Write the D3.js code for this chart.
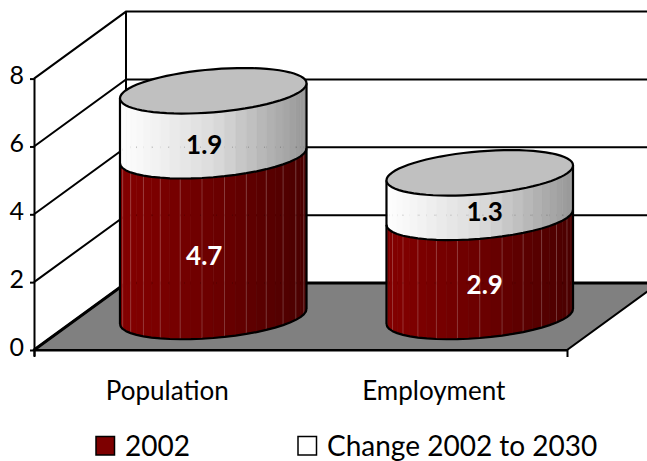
<!DOCTYPE html>
<html><head><meta charset="utf-8">
<script src="https://cdnjs.cloudflare.com/ajax/libs/d3/7.8.5/d3.min.js"></script>
<style>html,body{margin:0;padding:0;background:#fff}svg{display:block}text{font-family:Lato,"Noto Sans",sans-serif;fill:#000}</style>
</head><body><svg id="c" width="647" height="461"></svg>
<script>
const categories = ["Population", "Employment"];
const values2002 = [4.7, 2.9];
const valuesChange = [1.9, 1.3];
const yTicks = [0, 2, 4, 6, 8];
const legendLabels = ["2002", "Change 2002 to 2030"];
const seriesColors = ["#7d0000", "#ffffff"];

const svg = d3.select("#c");
const y = d3.scaleLinear().domain([0, 8]).range([350, 78.6]);
const x = d3.scaleBand().domain(categories).range([34, 567]);
const barH = d3.scaleLinear().domain([0, 8]).range([0, 273.6]);
const depthX = 92, depthY = 67;
const stroke = "#000";

// floor
svg.append("path").attr("d", d3.line()([[x.range()[0], y(0)], [x.range()[1], y(0)],
    [x.range()[1] + depthX, y(0) - depthY], [x.range()[0] + depthX, y(0) - depthY]]) + "Z")
  .attr("fill", "#808080").attr("stroke", stroke).attr("stroke-width", 2);

// walls
const grid = svg.append("g").attr("fill", "none").attr("stroke", stroke).attr("stroke-width", 2);
yTicks.forEach(t => {
  grid.append("path").attr("d", d3.line()([[34, y(t)], [34 + depthX, y(t) - depthY], [700, y(t) - depthY]]))
    .attr("stroke-width", t === 0 ? 3 : 2);
});
grid.append("line").attr("x1", 34 + depthX).attr("x2", 34 + depthX).attr("y1", y(8) - depthY).attr("y2", y(0) - depthY);

// axes
const axisY = svg.append("g").attr("transform", "translate(34,0)")
  .call(d3.axisLeft(y).tickValues(yTicks).tickSize(4).tickPadding(6).tickSizeOuter(0));
axisY.selectAll("path,line").attr("stroke", stroke).attr("stroke-width", 2);
axisY.selectAll("text").attr("font-size", 25).attr("dy", "0.2em");
axisY.select(".domain").attr("d", d3.line()([[0.5, y(8)], [0.5, y(0) + 6]]));

const axisX = svg.append("g").attr("transform", `translate(0,${y(0)})`)
  .call(d3.axisBottom(x).tickSize(0).tickPadding(32).tickSizeOuter(7));
axisX.selectAll("path").attr("stroke", stroke).attr("stroke-width", 2);
axisX.selectAll("text").attr("font-size", 26);

// cylinders
const A = x.step() * 0.35, P = 7.5, Q = 21.5, N = 26;
const hue = [
  d3.scaleLinear().domain([-1, 0, 1]).range(["#840000", "#6c0000", "#4a0000"]),
  d3.scaleLinear().domain([-1, 0, 1]).range(["#ffffff", "#dcdcdc", "#979797"])
];
const pt = (cx, cy, t) => [cx + A * Math.cos(t), cy - P * Math.cos(t) - Q * Math.sin(t)];
const front = d3.range(0, N + 1).map(i => Math.PI + Math.PI * i / N);
const line = d3.line();
const labelNudge = [[2, 4], [0, -1]];

categories.forEach((c, k) => {
  const cx = x(c) + x.step() / 2 + depthX / 2;
  const cy0 = y(0) - depthY / 2;
  const segs = [[0, values2002[k]], [values2002[k], values2002[k] + valuesChange[k]]];
  const g = svg.append("g");
  segs.forEach((s, si) => {
    const yb = cy0 - barH(s[0]), yt = cy0 - barH(s[1]);
    d3.pairs(front).forEach(([a, b], i) => {
      const pts = [pt(cx, yb, a), pt(cx, yb, b), pt(cx, yt, b), pt(cx, yt, a)];
      const col = hue[si](Math.cos((a + b) / 2));
      g.append("path").attr("d", line(pts) + "Z").attr("fill", col).attr("stroke", col).attr("stroke-width", 0.6);
    });
    // light seams on a few facet edges of the dark segment
    if (si === 0) front.filter((t, i) => i > 0 && i < N && i % 2 === (k === 0 ? 0 : 1)).forEach(t => {
      const p0 = pt(cx, yb, t), p1 = pt(cx, yt, t);
      g.append("line").attr("x1", p0[0]).attr("y1", p0[1]).attr("x2", p1[0]).attr("y2", p1[1])
        .attr("stroke", "#fff").attr("stroke-opacity", 0.2).attr("stroke-width", 1);
    });
  });
  // faint grid show-through
  yTicks.filter(t => y(t) - depthY > cy0 - barH(segs[1][1]) + 25 && y(t) - depthY < cy0).forEach(t => {
    g.append("line").attr("x1", cx - A).attr("x2", cx + A)
      .attr("y1", y(t) - depthY).attr("y2", y(t) - depthY)
      .attr("stroke", "#000").attr("stroke-opacity", 0.18).attr("stroke-width", 1.5)
      .attr("stroke-dasharray", "1 15");
  });
  // outlines
  const total = segs[1][1];
  const outline = g.append("g").attr("fill", "none").attr("stroke", stroke).attr("stroke-width", 2.2).attr("stroke-linejoin", "round");
  [0, segs[0][1]].forEach(v => outline.append("path").attr("d", line(front.map(t => pt(cx, cy0 - barH(v), t)))));
  outline.append("line").attr("x1", cx - A).attr("x2", cx - A).attr("y1", cy0 + P).attr("y2", cy0 - barH(total) + P);
  outline.append("line").attr("x1", cx + A).attr("x2", cx + A).attr("y1", cy0 - P).attr("y2", cy0 - barH(total) - P);
  const top = d3.range(0, 72).map(i => pt(cx, cy0 - barH(total), i * Math.PI / 36));
  g.append("path").attr("d", line(top) + "Z").attr("fill", "#c0c0c0").attr("stroke", stroke).attr("stroke-width", 2.2);

  // value labels
  const lx = x(c) + x.step() / 2 + (k === 0 ? 37 : 51);
  segs.forEach((s, si) => {
    const nudge = si === 0 ? labelNudge[k][0] : labelNudge[k][1];
    g.append("text").attr("x", lx).attr("y", cy0 - barH((s[0] + s[1]) / 2) + 18 + nudge)
      .attr("text-anchor", "middle").attr("dy", "0.35em").attr("font-size", 26).attr("font-weight", 700)
      .style("fill", si === 0 ? "#fff" : "#000")
      .text(d3.format(".1f")(s[1] - s[0]));
  });
});

// legend
const legendX = d3.scaleOrdinal().domain(legendLabels).range([96, 298]);
const lg = svg.append("g");
legendLabels.forEach((l, i) => {
  lg.append("rect").attr("x", legendX(l)).attr("y", 436.5).attr("width", 18.5).attr("height", 18.5)
    .attr("fill", seriesColors[i]).attr("stroke", "#000").attr("stroke-width", 1.5);
  lg.append("text").attr("x", legendX(l) + 29).attr("y", 456).attr("font-size", 28).text(l);
});
</script></body></html>
